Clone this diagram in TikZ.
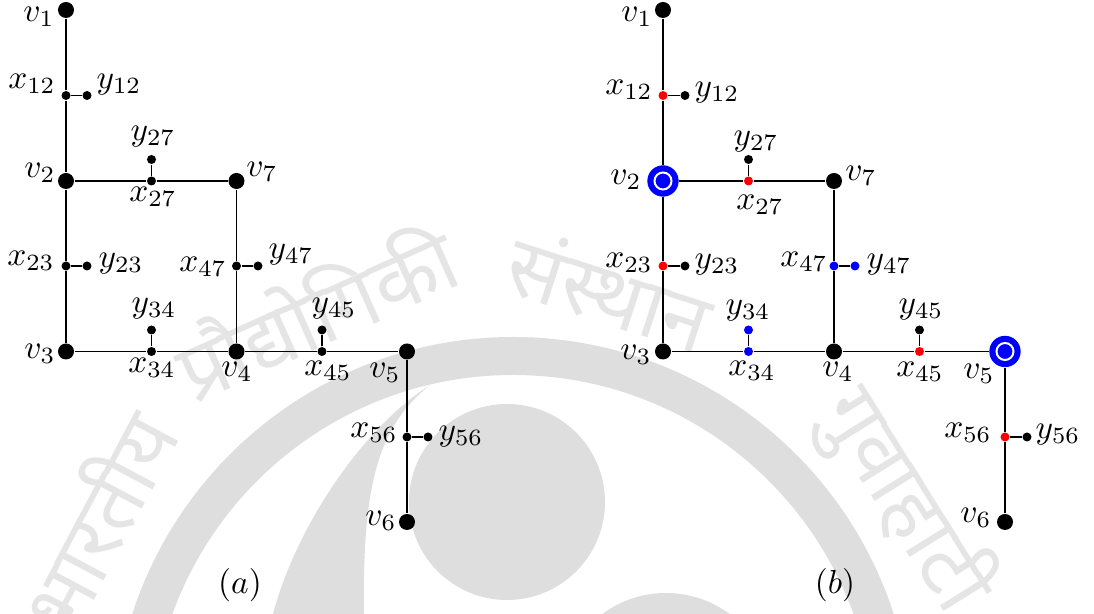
\documentclass[tikz,border=0pt]{standalone}
\usepackage{fontspec}
\newfontfamily\devfont[Script=Devanagari]{Noto Sans}
\newcommand\graphedges[1]{%
  \draw[edge] (#1-v1) -- (#1-x12) -- (#1-v2) -- (#1-x23) -- (#1-v3) -- (#1-x34) -- (#1-v4) -- (#1-x45) -- (#1-v5) -- (#1-x56) -- (#1-v6);
  \draw[edge] (#1-v2) -- (#1-x27) -- (#1-v7) -- (#1-x47) -- (#1-v4);
  \draw[edge] (#1-x12) -- (#1-y12);
  \draw[edge] (#1-x27) -- (#1-y27);
  \draw[edge] (#1-x23) -- (#1-y23);
  \draw[edge] (#1-x47) -- (#1-y47);
  \draw[edge] (#1-x34) -- (#1-y34);
  \draw[edge] (#1-x45) -- (#1-y45);
  \draw[edge] (#1-x56) -- (#1-y56);
}
\begin{document}
\begin{tikzpicture}[x=0.3pt,y=-0.3pt,
  edge/.style={line width=0.4pt},
  bigdot/.style={circle,fill=black,inner sep=0pt,minimum size=4.8pt},
  sdot/.style={circle,fill=#1,inner sep=0pt,minimum size=2.7pt},
  sdot/.default=black,
  seldot/.style={circle,fill=blue,inner sep=0pt,minimum size=9.4pt,
    path picture={\draw[white,line width=0.6pt] (path picture bounding box.center) circle (2.55pt);}},
  lab/.style={inner sep=0pt},
  wm/.style={black!13},
  wmtext/.style={text=black!10,font=\devfont\fontsize{25}{30}\selectfont,inner sep=0pt}]
\useasboundingbox (0,0) rectangle (1094,614);
% watermark
\begin{scope}
\clip (0,0) rectangle (1094,614);
\draw[wm,line width=11.4pt] (513,737) circle [radius=381];
\fill[wm] (273,614) .. controls (295,530) and (360,430) .. (430,385)
  .. controls (380,425) and (362,480) .. (364,614) -- (362,660) -- (262,660) -- cycle;
\fill[wm] (507,502) circle [radius=98];
\fill[wm] (666,700) circle [radius=107];
\node[wmtext,rotate=62] (wm1) at (95,520) {भारतीय};
\node[wmtext,rotate=24] (wm2) at (315,310) {प्रौद्योगिकी};
\node[wmtext,rotate=-18] (wm3) at (610,290) {संस्थान};
\node[wmtext,rotate=-58] (wm4) at (905,500) {गुवाहाटी};
\end{scope}
% ---------- (a) ----------
\node[bigdot] (a-v1) at (66,10) {};
\node[sdot] (a-x12) at (66,95.5) {};
\node[sdot] (a-y12) at (87,95.5) {};
\node[bigdot] (a-v2) at (66,181) {};
\node[sdot] (a-x27) at (151.5,181) {};
\node[sdot] (a-y27) at (151.5,159.5) {};
\node[bigdot] (a-v7) at (236.5,181) {};
\node[sdot] (a-x23) at (66,266) {};
\node[sdot] (a-y23) at (87,266) {};
\node[sdot] (a-x47) at (236.5,266) {};
\node[sdot] (a-y47) at (258,266) {};
\node[bigdot] (a-v3) at (66,351.5) {};
\node[sdot] (a-x34) at (151.5,351.5) {};
\node[sdot] (a-y34) at (151.5,330) {};
\node[bigdot] (a-v4) at (236.5,351.5) {};
\node[sdot] (a-x45) at (322,351.5) {};
\node[sdot] (a-y45) at (322,330) {};
\node[bigdot] (a-v5) at (407,351.5) {};
\node[sdot] (a-x56) at (407,437) {};
\node[sdot] (a-y56) at (428,437) {};
\node[bigdot] (a-v6) at (407,522) {};
\graphedges{a}
\node[lab] (a-lv1) at (39,17) {$v_1$};
\node[lab] (a-lx12) at (32,84) {$x_{12}$};
\node[lab] (a-ly12) at (119,85) {$y_{12}$};
\node[lab] (a-ly27) at (153,137) {$y_{27}$};
\node[lab] (a-lv2) at (40,173) {$v_2$};
\node[lab] (a-lx27) at (153,197) {$x_{27}$};
\node[lab] (a-lv7) at (262,172) {$v_7$};
\node[lab] (a-lx23) at (31,261) {$x_{23}$};
\node[lab] (a-ly23) at (121,264) {$y_{23}$};
\node[lab] (a-lx47) at (203,267) {$x_{47}$};
\node[lab] (a-ly47) at (291,255) {$y_{47}$};
\node[lab] (a-lv3) at (40,354) {$v_3$};
\node[lab] (a-ly34) at (154,309) {$y_{34}$};
\node[lab] (a-lx34) at (152,368) {$x_{34}$};
\node[lab] (a-lv4) at (237,372) {$v_4$};
\node[lab] (a-ly45) at (334,309) {$y_{45}$};
\node[lab] (a-lx45) at (328,371) {$x_{45}$};
\node[lab] (a-lv5) at (385,373) {$v_5$};
\node[lab] (a-lx56) at (374,433) {$x_{56}$};
\node[lab] (a-ly56) at (461,437) {$y_{56}$};
\node[lab] (a-lv6) at (381,521) {$v_6$};
\node[lab] (a-cap) at (240,585) {$(a)$};
% ---------- (b) ----------
\node[bigdot] (b-v1) at (663,10) {};
\node[sdot=red] (b-x12) at (663,95.5) {};
\node[sdot] (b-y12) at (685,95.5) {};
\node[seldot] (b-v2) at (663,181) {};
\node[sdot=red] (b-x27) at (748.5,181) {};
\node[sdot] (b-y27) at (748.5,159.5) {};
\node[bigdot] (b-v7) at (834,181) {};
\node[sdot=red] (b-x23) at (663,266) {};
\node[sdot] (b-y23) at (685,266) {};
\node[sdot=blue] (b-x47) at (834,266) {};
\node[sdot=blue] (b-y47) at (855,266) {};
\node[bigdot] (b-v3) at (663,351.5) {};
\node[sdot=blue] (b-x34) at (748.5,351.5) {};
\node[sdot=blue] (b-y34) at (748.5,330) {};
\node[bigdot] (b-v4) at (834,351.5) {};
\node[sdot=red] (b-x45) at (919.5,351.5) {};
\node[sdot] (b-y45) at (919.5,330) {};
\node[seldot] (b-v5) at (1005,351.5) {};
\node[sdot=red] (b-x56) at (1005,437) {};
\node[sdot] (b-y56) at (1027,437) {};
\node[bigdot] (b-v6) at (1005,522) {};
\graphedges{b}
\node[lab] (b-lv1) at (637,17) {$v_1$};
\node[lab] (b-lx12) at (629,90) {$x_{12}$};
\node[lab] (b-ly12) at (717,93) {$y_{12}$};
\node[lab] (b-ly27) at (756,142) {$y_{27}$};
\node[lab] (b-lv2) at (626,180) {$v_2$};
\node[lab] (b-lx27) at (760,205) {$x_{27}$};
\node[lab] (b-lv7) at (861,176) {$v_7$};
\node[lab] (b-lx23) at (629,263) {$x_{23}$};
\node[lab] (b-ly23) at (717,265) {$y_{23}$};
\node[lab] (b-lx47) at (804,262) {$x_{47}$};
\node[lab] (b-ly47) at (889,265) {$y_{47}$};
\node[lab] (b-lv3) at (636,355) {$v_3$};
\node[lab] (b-ly34) at (748,311) {$y_{34}$};
\node[lab] (b-lx34) at (752,371) {$x_{34}$};
\node[lab] (b-lv4) at (838,372) {$v_4$};
\node[lab] (b-ly45) at (921,310) {$y_{45}$};
\node[lab] (b-lx45) at (920,372) {$x_{45}$};
\node[lab] (b-lv5) at (979,374) {$v_5$};
\node[lab] (b-lx56) at (968,433) {$x_{56}$};
\node[lab] (b-ly56) at (1058,435) {$y_{56}$};
\node[lab] (b-lv6) at (976,518) {$v_6$};
\node[lab] (b-cap) at (835,585) {$(b)$};
\end{tikzpicture}
\end{document}
